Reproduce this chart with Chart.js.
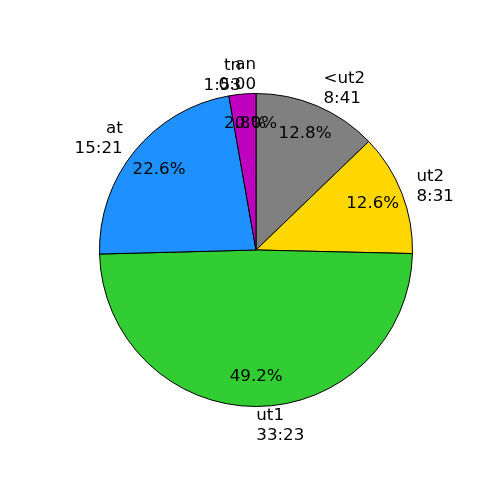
<!DOCTYPE html>
<html>
<head>
<meta charset="utf-8">
<script src="https://cdn.jsdelivr.net/npm/chart.js@4/dist/chart.umd.min.js"></script>
<style>
  html, body { margin: 0; padding: 0; background: #fff; }
  #wrap { width: 500px; height: 500px; }
</style>
</head>
<body>
<div id="wrap"><canvas id="pieChart" width="500" height="500"></canvas></div>
<script>
const labels = ['<ut2', 'ut2', 'ut1', 'at', 'tn', 'an'];
const seconds = [521, 511, 2003, 921, 113, 0];
const colors = ['#808080', '#FFD700', '#32CD32', '#1E90FF', '#BF00BF', '#FF0000'];

const total = seconds.reduce((a, b) => a + b, 0);

function fmtTime(s) {
  const m = Math.floor(s / 60);
  const r = s % 60;
  return `${m}:${String(r).padStart(2, '0')}`;
}

// draws matplotlib-like labels (outside) and percentages (inside)
const sliceText = {
  id: 'sliceText',
  afterDraw(chart) {
    const ctx = chart.ctx;
    const meta = chart.getDatasetMeta(0);
    ctx.save();
    ctx.font = '16.7px "DejaVu Sans", sans-serif';
    ctx.fillStyle = '#000';
    ctx.textBaseline = 'middle';
    const lineH = 20;
    meta.data.forEach((arc, i) => {
      const { x, y, startAngle, endAngle, outerRadius } = arc.getProps(['x', 'y', 'startAngle', 'endAngle', 'outerRadius'], true);
      const mid = (startAngle + endAngle) / 2;
      const c = Math.cos(mid), s = Math.sin(mid);
      // percentage
      const pct = (seconds[i] / total * 100).toFixed(1) + '%';
      ctx.textAlign = 'center';
      ctx.fillText(pct, x + c * outerRadius * 0.8, y + s * outerRadius * 0.81);
      // label
      const lx = x + c * outerRadius * 1.1;
      const ly = y + s * outerRadius * 1.12;
      ctx.textAlign = c < 0 ? 'right' : 'left';
      const lines = [labels[i], fmtTime(seconds[i])];
      lines.forEach((t, k) => {
        ctx.fillText(t, lx, ly + (k - (lines.length - 1) / 2) * lineH);
      });
    });
    ctx.restore();
  }
};

new Chart(document.getElementById('pieChart'), {
  type: 'pie',
  data: {
    labels,
    datasets: [{
      data: seconds,
      backgroundColor: colors,
      borderColor: '#000',
      borderWidth: 1,
    }],
  },
  options: {
    responsive: false,
    animation: false,
    layout: { padding: { left: 99, right: 87, top: 93, bottom: 93 } },
    plugins: {
      legend: { display: false },
      tooltip: { enabled: false },
    },
  },
  plugins: [sliceText],
});
</script>
</body>
</html>
